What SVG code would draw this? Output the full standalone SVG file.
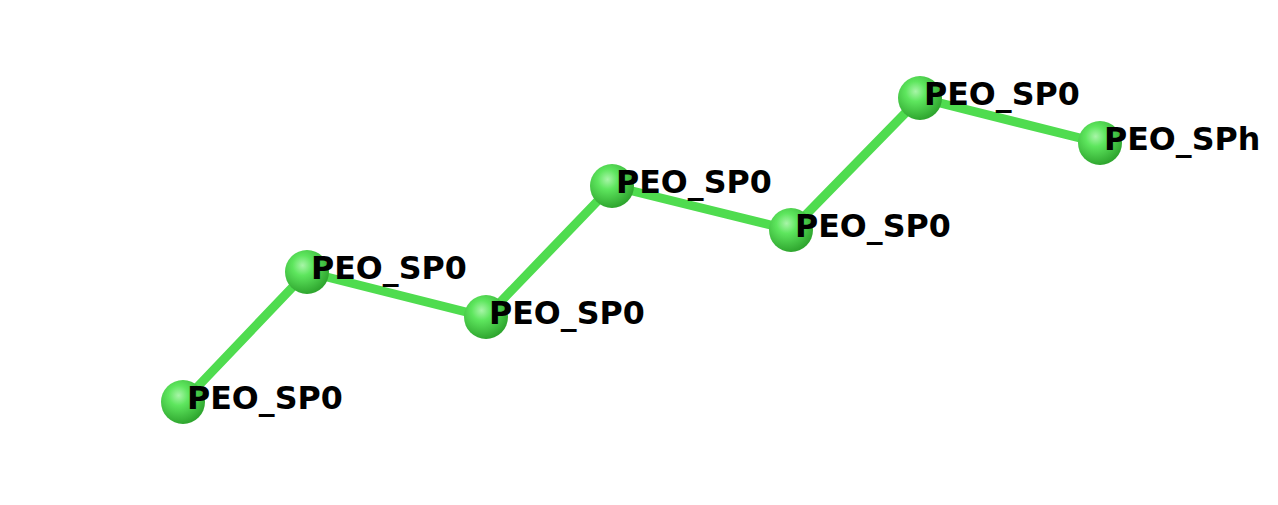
<svg xmlns="http://www.w3.org/2000/svg" width="1278" height="505" viewBox="0 0 1278 505">
<defs>
<radialGradient id="ball" cx="0.4" cy="0.35" r="0.65">
<stop offset="0" stop-color="#a8f5a8"/>
<stop offset="0.35" stop-color="#5ee65e"/>
<stop offset="1" stop-color="#2fa62f"/>
</radialGradient>
<style>
.bond{stroke:#4fdc4f;stroke-width:9;stroke-linecap:round}
text{font-family:"DejaVu Sans",sans-serif;font-weight:bold;font-size:31.7px;fill:#000}
</style>
</defs>
<rect width="1278" height="505" fill="#fff"/>
<g id="connectors">
<line class="bond" x1="183" y1="402" x2="307" y2="272"/>
<line class="bond" x1="307" y1="272" x2="486" y2="317"/>
<line class="bond" x1="486" y1="317" x2="612" y2="186"/>
<line class="bond" x1="612" y1="186" x2="791" y2="230"/>
<line class="bond" x1="791" y1="230" x2="920" y2="98"/>
<line class="bond" x1="920" y1="98" x2="1100" y2="143"/>
</g>
<g id="n1"><circle cx="183" cy="402" r="22" fill="url(#ball)"/><text x="187" y="409">PEO_SP0</text></g>
<g id="n2"><circle cx="307" cy="272" r="22" fill="url(#ball)"/><text x="311" y="279">PEO_SP0</text></g>
<g id="n3"><circle cx="486" cy="317" r="22" fill="url(#ball)"/><text x="489" y="324">PEO_SP0</text></g>
<g id="n4"><circle cx="612" cy="186" r="22" fill="url(#ball)"/><text x="616" y="193">PEO_SP0</text></g>
<g id="n5"><circle cx="791" cy="230" r="22" fill="url(#ball)"/><text x="795" y="237">PEO_SP0</text></g>
<g id="n6"><circle cx="920" cy="98" r="22" fill="url(#ball)"/><text x="924" y="105">PEO_SP0</text></g>
<g id="n7"><circle cx="1100" cy="143" r="22" fill="url(#ball)"/><text x="1104" y="150">PEO_SPh</text></g>
</svg>
